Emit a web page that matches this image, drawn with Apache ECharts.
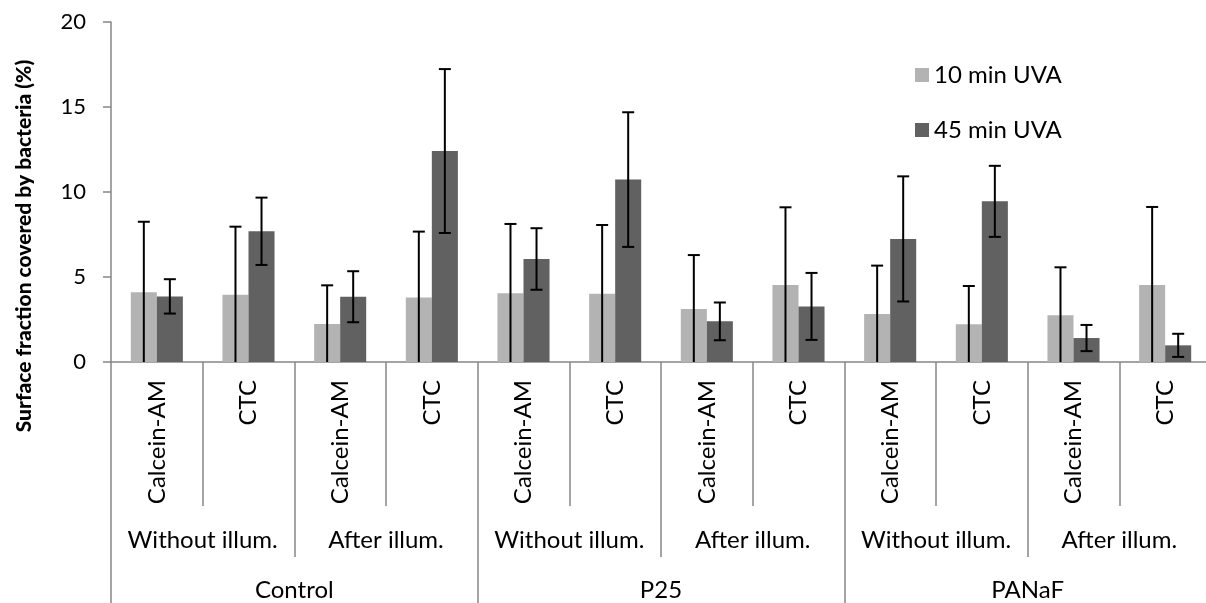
<!DOCTYPE html>
<html>
<head>
<meta charset="utf-8">
<script src="https://cdn.jsdelivr.net/npm/echarts@6/dist/echarts.min.js"></script>
<style>
  html, body { margin: 0; padding: 0; background: #fff; }
  #chart { width: 1206px; height: 603px; }
</style>
</head>
<body>
<div id="chart"></div>
<script>
// Stain / treatment categories (innermost level of the x axis)
const stains = ['Calcein-AM', 'CTC', 'Calcein-AM', 'CTC', 'Calcein-AM', 'CTC',
                'Calcein-AM', 'CTC', 'Calcein-AM', 'CTC', 'Calcein-AM', 'CTC'];
// Illumination condition (middle level)
const illumination = ['Without illum.', 'After illum.', 'Without illum.', 'After illum.',
                      'Without illum.', 'After illum.'];
// Surface material (outer level)
const materials = ['Control', 'P25', 'PANaF'];

// Surface fraction covered by bacteria (%) and standard deviations
const uva10 = [4.10, 3.96, 2.24, 3.80, 4.04, 4.02, 3.12, 4.53, 2.82, 2.22, 2.75, 4.53];
const uva10Err = [4.15, 4.00, 2.27, 3.87, 4.08, 4.04, 3.17, 4.57, 2.85, 2.25, 2.82, 4.59];
const uva45 = [3.86, 7.69, 3.84, 12.41, 6.06, 10.73, 2.39, 3.27, 7.24, 9.45, 1.41, 0.98];
const uva45Err = [1.01, 1.98, 1.50, 4.82, 1.81, 3.96, 1.11, 1.97, 3.68, 2.09, 0.77, 0.68];

const yTicks = [0, 5, 10, 15, 20];

const FONT = 'Lato, "Open Sans", sans-serif';
const AXIS_GREY = '#868686';
const BAR_SHARE = 0.284; // each bar's share of a category band

// Error bar renderer: side = -1 for the left bar, +1 for the right bar.
// Whiskers that would go below zero are cut at the axis, without a cap.
function errorBars(values, errs, side) {
  return function (params, api) {
    const i = api.value(0);
    const v = values[i];
    const e = errs[i];
    const band = api.size([1, 0])[0];
    const bw = band * BAR_SHARE;
    const center = api.coord([i, 0]);
    const x = center[0] + side * bw / 2;
    const hiY = api.coord([i, v + e])[1];
    const lowVal = v - e;
    const loY = api.coord([i, Math.max(0, lowVal)])[1];
    const cap = 6;
    const style = { stroke: '#000', lineWidth: 2 };
    const children = [
      { type: 'line', shape: { x1: x, y1: hiY, x2: x, y2: loY }, style: style },
      { type: 'line', shape: { x1: x - cap, y1: hiY, x2: x + cap, y2: hiY }, style: style }
    ];
    if (lowVal > 0) {
      children.push({ type: 'line', shape: { x1: x - cap, y1: loY, x2: x + cap, y2: loY }, style: style });
    }
    return { type: 'group', children: children };
  };
}

const idx = stains.map((_, i) => [i]);

const chart = echarts.init(document.getElementById('chart'), null, { renderer: 'canvas' });
chart.setOption({
  animation: false,
  backgroundColor: '#fff',
  grid: { left: 111, top: 22, width: 1100, height: 340, containLabel: false, outerBoundsMode: 'none' },
  legend: {
    orient: 'vertical',
    left: 915,
    top: 62,
    padding: 0,
    itemWidth: 14,
    itemHeight: 14,
    itemGap: 29,
    icon: 'rect',
    textStyle: { fontFamily: FONT, fontSize: 24, lineHeight: 26, color: '#000' },
    data: ['10 min UVA', '45 min UVA']
  },
  xAxis: [
    {
      type: 'category',
      data: stains,
      position: 'bottom',
      axisLine: { show: true, lineStyle: { color: AXIS_GREY, width: 1.5 } },
      axisTick: { show: true, interval: 0, length: 144, lineStyle: { color: AXIS_GREY, width: 1.5 } },
      axisLabel: { interval: 0, rotate: 90, margin: 18, fontFamily: FONT, fontSize: 24, color: '#000' }
    },
    {
      type: 'category',
      data: illumination,
      position: 'bottom',
      axisLine: { show: false },
      axisTick: { show: true, interval: 0, length: 195, lineStyle: { color: AXIS_GREY, width: 1.5 } },
      axisLabel: { interval: 0, margin: 165, fontFamily: FONT, fontSize: 24, lineHeight: 26, color: '#000' }
    },
    {
      type: 'category',
      data: materials,
      position: 'bottom',
      axisLine: { show: false },
      axisTick: { show: true, interval: 0, length: 245, lineStyle: { color: AXIS_GREY, width: 1.5 } },
      axisLabel: { interval: 0, margin: 215, fontFamily: FONT, fontSize: 24, lineHeight: 26, color: '#000' }
    }
  ],
  yAxis: {
    type: 'value',
    min: 0,
    max: 20,
    interval: 5,
    axisLine: { show: true, lineStyle: { color: AXIS_GREY, width: 1.5 } },
    axisTick: { show: true, length: 8, lineStyle: { color: AXIS_GREY, width: 1.5 } },
    splitLine: { show: false },
    axisLabel: {
      margin: 25,
      fontFamily: FONT,
      fontSize: 22,
      color: '#000',
      customValues: yTicks
    }
  },
  graphic: [
    {
      type: 'text',
      x: 24,
      y: 246,
      rotation: Math.PI / 2,
      style: {
        text: 'Surface fraction covered by bacteria (%)',
        fontFamily: FONT,
        fontSize: 21,
        fontWeight: 900,
        fill: '#000',
        align: 'center',
        verticalAlign: 'middle'
      }
    }
  ],
  series: [
    {
      name: '10 min UVA',
      type: 'bar',
      xAxisIndex: 0,
      data: uva10,
      barWidth: (BAR_SHARE * 100) + '%',
      barGap: '0%',
      itemStyle: { color: '#b3b3b3' }
    },
    {
      name: '45 min UVA',
      type: 'bar',
      xAxisIndex: 0,
      data: uva45,
      barWidth: (BAR_SHARE * 100) + '%',
      barGap: '0%',
      itemStyle: { color: '#616161' }
    },
    {
      type: 'custom',
      xAxisIndex: 0,
      data: idx,
      renderItem: errorBars(uva10, uva10Err, -1),
      z: 10,
      silent: true
    },
    {
      type: 'custom',
      xAxisIndex: 0,
      data: idx,
      renderItem: errorBars(uva45, uva45Err, 1),
      z: 10,
      silent: true
    }
  ]
});
</script>
</body>
</html>
